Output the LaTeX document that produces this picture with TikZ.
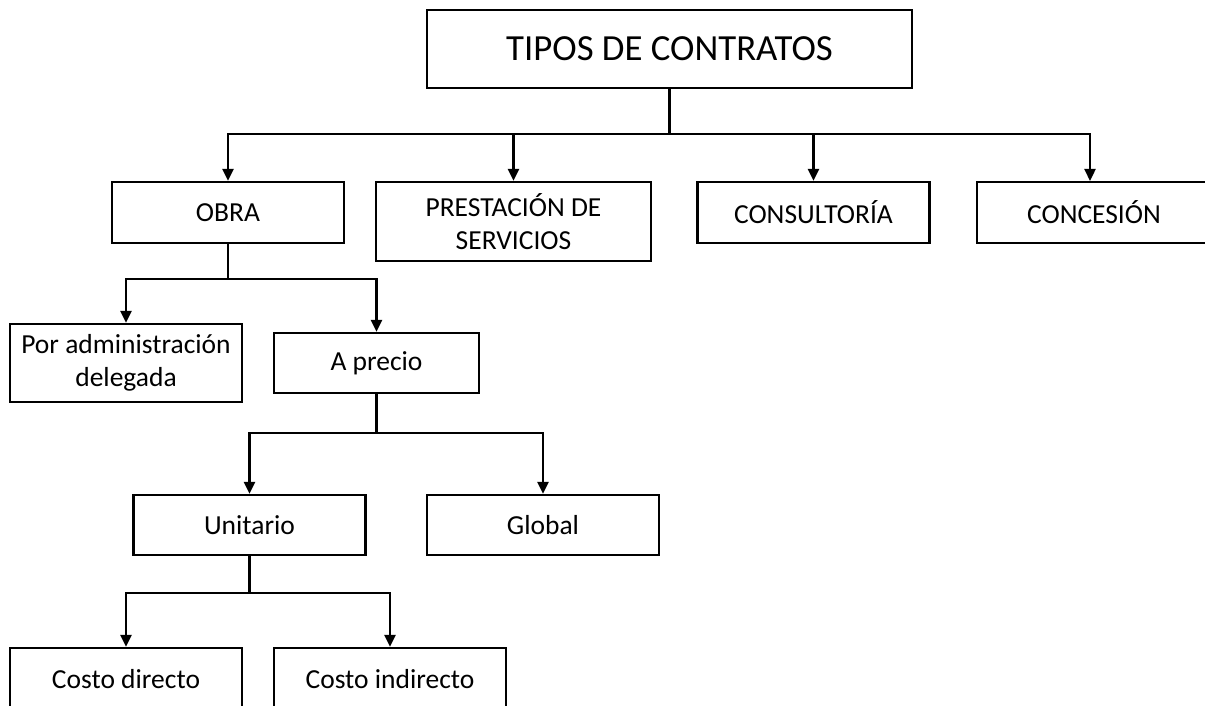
\documentclass[tikz,border=0pt]{standalone}
\usepackage{fontspec}
\setmainfont{Carlito}
\usepackage{tikz}
\usetikzlibrary{arrows.meta, positioning}

\begin{document}
\begin{tikzpicture}[
        x=1pt, y=1pt,
        every node/.style={align=center, anchor=center},
        titulo/.style={rectangle, draw=black, line width=2.3pt, fill=white,
                       font=\fontsize{36.8}{42}\selectfont,
                       minimum width=485pt, minimum height=78pt, inner sep=2pt},
        caja/.style={rectangle, draw=black, line width=2.3pt, fill=white,
                     font=\fontsize{27.5}{33}\selectfont,
                     minimum width=232pt, minimum height=61pt, inner sep=2pt},
        linea/.style={draw=black, line width=2.3pt},
        flecha/.style={linea, -{Triangle[width=11pt, length=12pt]}}
    ]
        \useasboundingbox (0,0) rectangle (1205,-706);

        \node[titulo] (tipos) at (669.5,-49) {TIPOS DE CONTRATOS};

        \node[caja] (obra)    at (228,-212.5)   {OBRA};
        \node[caja, minimum width=275pt, minimum height=79pt]
                    (prest)   at (513.5,-221.5) {PRESTACIÓN DE\\SERVICIOS};
        \node[caja] (consul)  at (813.5,-212.5) {CONSULTORÍA};
        \node[caja, minimum width=234pt] (conces) at (1094,-212.5) {CONCESIÓN};

        \node[caja, minimum height=78pt] (poradm) at (126,-363) {Por administración\\delegada};
        \node[caja, minimum width=205pt, minimum height=60pt] (aprecio) at (376.5,-363) {A precio};

        \node[caja, minimum height=60pt] (unit)   at (249.5,-525) {Unitario};
        \node[caja, minimum height=60pt] (global) at (543,-525)   {Global};

        \node[caja, minimum height=62pt] (cdir)   at (126,-679)   {Costo directo};
        \node[caja, minimum height=62pt] (cind)   at (390,-679)   {Costo indirecto};

        % ramas principales
        \coordinate (barra) at (tipos.south |- 0,-134);
        \draw[linea] (tipos.south) -- (barra);
        \draw[flecha] (barra) -| (obra.north);
        \draw[flecha] (barra) -| (prest.north);
        \draw[flecha] (barra) -| (consul.north);
        \draw[flecha] (barra) -| (1090,-181);

        % obra
        \coordinate (nudoObra) at (obra.south |- 0,-279);
        \draw[linea] (obra.south) -- (nudoObra);
        \draw[flecha] (nudoObra) -| (poradm.north);
        \draw[flecha] (nudoObra) -| (aprecio.north);

        % a precio
        \coordinate (nudoPrecio) at (aprecio.south |- 0,-433);
        \draw[linea] (aprecio.south) -- (nudoPrecio);
        \draw[flecha] (nudoPrecio) -| (unit.north);
        \draw[flecha] (nudoPrecio) -| (global.north);

        % unitario
        \coordinate (nudoUnit) at (unit.south |- 0,-593);
        \draw[linea] (unit.south) -- (nudoUnit);
        \draw[flecha] (nudoUnit) -| (cdir.north);
        \draw[flecha] (nudoUnit) -| (cind.north);
    \end{tikzpicture}
\end{document}
